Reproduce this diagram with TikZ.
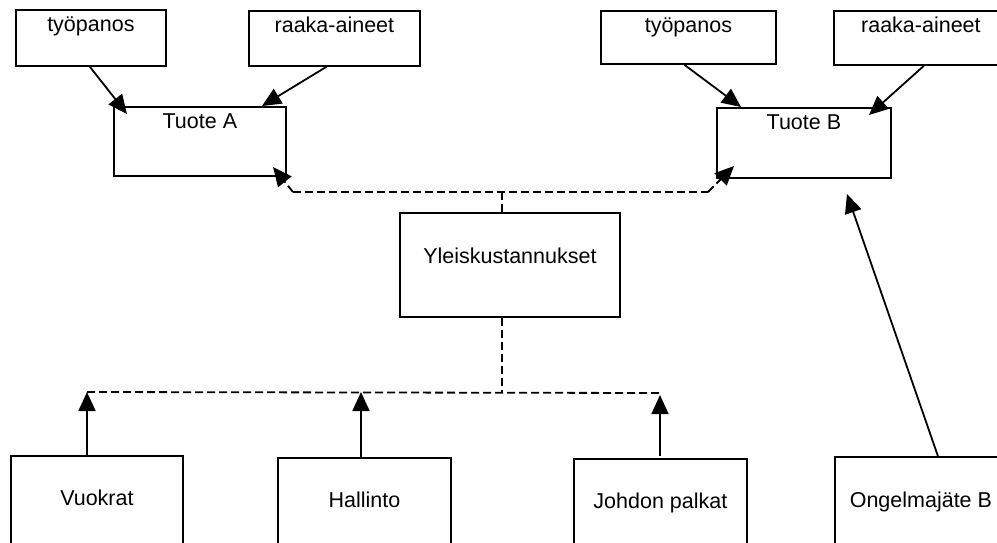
\documentclass[tikz,border=0pt]{standalone}
\usepackage{fontspec}
\setmainfont{Liberation Sans}
\usetikzlibrary{arrows.meta}
\begin{document}
\begin{tikzpicture}[x=1pt,y=-1pt,
  box/.style={draw, line width=1.8pt, inner sep=0pt, anchor=north west,
    font=\fontsize{21.5}{24}\selectfont, text height=22pt},
  tip/.style={-{Triangle[length=19pt,width=17pt]}},
  arr/.style={line width=1.8pt, tip},
  dsh/.style={line width=1.8pt, dash pattern=on 8pt off 4pt}]
\useasboundingbox (0,0) rectangle (997,542);
% top row
\node[box, minimum width=150pt, text depth=34pt] (tpA) at (15,9) {työpanos};
\node[box, minimum width=171pt, text depth=33pt] (raA) at (248,10) {raaka-aineet};
\node[box, minimum width=175pt, text depth=31pt] (tpB) at (600,10) {työpanos};
\node[box, minimum width=174pt, text depth=32pt] (raB) at (833,10) {raaka-aineet};
% products
\node[box, minimum width=172pt, text depth=47pt] (tuoA) at (113,106) {Tuote A};
\node[box, minimum width=174pt, text depth=48pt] (tuoB) at (716,107) {Tuote B};
% overhead
\node[box, minimum width=220pt, text height=51pt, text depth=53pt] (yle) at (399,212) {Yleiskustannukset};
% bottom row
\node[box, minimum width=172pt, text height=50pt, text depth=60pt] (vuo) at (10,455) {Vuokrat};
\node[box, minimum width=173pt, text height=50pt, text depth=60pt] (hal) at (277,457) {Hallinto};
\node[box, minimum width=173pt, text height=50pt, text depth=60pt] (joh) at (573,458) {Johdon palkat};
\node[box, minimum width=172pt, text height=51pt, text depth=60pt] (ong) at (834,456) {Ongelmajäte B};
% free ends
\coordinate (tipA1) at (127,114);
\coordinate (tipA2) at (262,106);
\coordinate (tipB1) at (741,107);
\coordinate (tipB2) at (869,115);
\coordinate (tipB3) at (847,194);
\coordinate (jt) at (502,192);
\coordinate (jl) at (293,192);
\coordinate (jr) at (708,192);
\coordinate (tA) at (273,167);
\coordinate (tB) at (734,166);
\coordinate (jb) at (502,393);
\coordinate (bl) at (87,392);
\coordinate (bh) at (361,392);
\coordinate (br) at (660,393);
% solid arrows into products
\draw[arr] ([xshift=-1pt]tpA.south) -- (tipA1);
\draw[arr] ([xshift=-8pt]raA.south) -- (tipA2);
\draw[arr] ([xshift=-4pt]tpB.south) -- (tipB1);
\draw[arr] ([xshift=3pt]raB.south) -- (tipB2);
\draw[arr] ([xshift=17pt]ong.north) -- (tipB3);
% dashed overhead allocation
\draw[dsh] (yle.north -| jt) -- (jt);
\draw[dsh] (jl) -- (jr);
\draw[dsh, tip] (jl) -- (tA);
\draw[dsh, tip] (jr) -- (tB);
\draw[dsh] (yle.south -| jb) -- (jb);
\draw[dsh] (bl) -- (br);
% cost sources
\draw[arr] (vuo.north -| bl) -- (bl);
\draw[arr] (hal.north -| bh) -- (bh);
\draw[arr] ([yshift=2pt]joh.north -| br) -- ([yshift=-2pt]br);
\end{tikzpicture}
\end{document}
